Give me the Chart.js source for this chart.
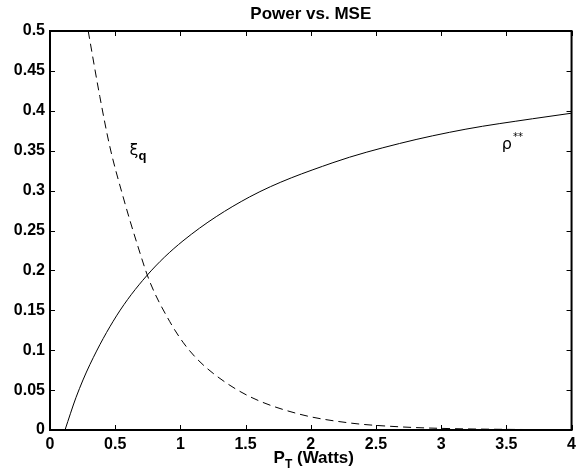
<!DOCTYPE html>
<html><head><meta charset="utf-8">
<script src="https://cdn.jsdelivr.net/npm/chart.js@4/dist/chart.umd.min.js"></script>
<style>html,body{margin:0;padding:0;background:#fff}#wrap{width:581px;height:469px}</style>
</head><body><div id="wrap"><canvas id="c" width="581" height="469"></canvas></div>
<script>
// Data
const rhoX = [0.115, 0.2, 0.306, 0.51, 0.74, 1.02, 1.53, 2.17, 2.68, 3.19, 3.70, 4.0];
const rhoY = [0, 0.041, 0.082, 0.143, 0.193, 0.237, 0.292, 0.335, 0.359, 0.377, 0.390, 0.397];
const xiX = [0.293, 0.382, 0.459, 0.561, 0.663, 0.765, 0.918, 1.02, 1.122, 1.275, 1.53, 1.91, 2.29, 2.68, 3.06, 3.5, 4.0];
const xiY = [0.5, 0.418, 0.355, 0.292, 0.236, 0.186, 0.136, 0.110, 0.090, 0.068, 0.042, 0.020, 0.009, 0.004, 0.0018, 0.0008, 0.0003];
const xTickValues = [0, 0.5, 1, 1.5, 2, 2.5, 3, 3.5, 4];
const xTickLabels = ['0', '0.5', '1', '1.5', '2', '2.5', '3', '3.5', '4'];
const yTickValues = [0, 0.05, 0.1, 0.15, 0.2, 0.25, 0.3, 0.35, 0.4, 0.45, 0.5];
const yTickLabels = ['0', '0.05', '0.1', '0.15', '0.2', '0.25', '0.3', '0.35', '0.4', '0.45', '0.5'];
const titleText = 'Power vs. MSE';

const toPts = (xs, ys) => xs.map((x, i) => ({x: x, y: ys[i]}));
const FONT = 'Liberation Sans, Arial, Helvetica, sans-serif';

const decor = {
  id: 'decor',
  afterDraw(chart) {
    const ctx = chart.ctx, a = chart.chartArea;
    const xs = chart.scales.x, ys = chart.scales.y;
    ctx.save();
    ctx.strokeStyle = '#000';
    ctx.fillStyle = '#000';
    // ticks inward on all four sides
    ctx.lineWidth = 1;
    ctx.beginPath();
    xTickValues.forEach(v => {
      const px = Math.round(xs.getPixelForValue(v)) + 0.5;
      ctx.moveTo(px, a.bottom); ctx.lineTo(px, a.bottom - 5);
      ctx.moveTo(px, a.top); ctx.lineTo(px, a.top + 5);
    });
    yTickValues.forEach(v => {
      const py = Math.round(ys.getPixelForValue(v)) + 0.5;
      ctx.moveTo(a.left, py); ctx.lineTo(a.left + 5, py);
      ctx.moveTo(a.right, py); ctx.lineTo(a.right - 5, py);
    });
    ctx.stroke();
    // frame
    ctx.lineWidth = 2;
    ctx.strokeRect(a.left, a.top, a.right - a.left, a.bottom - a.top);
    // title
    ctx.font = 'bold 17px ' + FONT;
    ctx.textAlign = 'center';
    ctx.textBaseline = 'alphabetic';
    ctx.fillText(titleText, (a.left + a.right) / 2, 19);
    // x axis title P_T (Watts)
    const cx = (a.left + a.right) / 2 + 3;
    const base = 463;
    ctx.textAlign = 'left';
    ctx.font = 'bold 17px ' + FONT;
    const wP = ctx.measureText('P').width;
    const wRest = ctx.measureText(' (Watts)').width;
    ctx.font = 'bold 12px ' + FONT;
    const wT = ctx.measureText('T').width;
    let x0 = cx - (wP + wT + wRest) / 2;
    ctx.font = 'bold 17px ' + FONT;
    ctx.fillText('P', x0, base);
    ctx.font = 'bold 12px ' + FONT;
    ctx.fillText('T', x0 + wP, base + 5);
    ctx.font = 'bold 17px ' + FONT;
    ctx.fillText(' (Watts)', x0 + wP + wT, base);
    // curve labels
    ctx.font = '16px DejaVu Sans, sans-serif';
    const xiPx = xs.getPixelForValue(0.61), xiPy = ys.getPixelForValue(0.344);
    ctx.fillText('\u03BE', xiPx, xiPy);
    const wXi = ctx.measureText('\u03BE').width;
    ctx.font = 'bold 13px ' + FONT;
    ctx.fillText('q', xiPx + wXi, xiPy + 5);
    ctx.font = '16px DejaVu Sans, sans-serif';
    const rPx = xs.getPixelForValue(3.465), rPy = ys.getPixelForValue(0.352);
    ctx.fillText('\u03C1', rPx, rPy);
    const wR = ctx.measureText('\u03C1').width;
    ctx.font = '10px DejaVu Sans, sans-serif';
    ctx.fillText('**', rPx + wR + 1, rPy - 9);
    ctx.restore();
  }
};

new Chart(document.getElementById('c'), {
  type: 'scatter',
  data: {
    datasets: [
      {label: 'rho', data: toPts(rhoX, rhoY), showLine: true, borderColor: '#000', borderWidth: 1,
       pointRadius: 0, cubicInterpolationMode: 'monotone', fill: false},
      {label: 'xi', data: toPts(xiX, xiY), showLine: true, borderColor: '#000', borderWidth: 1,
       borderDash: [8, 5], pointRadius: 0, cubicInterpolationMode: 'monotone', fill: false}
    ]
  },
  options: {
    responsive: false,
    devicePixelRatio: 1,
    animation: false,
    layout: {padding: {top: 31, right: 8, bottom: 0, left: 0}},
    plugins: {legend: {display: false}, tooltip: {enabled: false}, title: {display: false}},
    scales: {
      x: {
        type: 'linear', min: 0, max: 4,
        afterBuildTicks: s => { s.ticks = xTickValues.map(v => ({value: v})); },
        afterFit: s => { s.height = 39; },
        grid: {display: false, drawTicks: false},
        border: {display: false},
        ticks: {
          callback: (v, i) => xTickLabels[i],
          font: {family: FONT, size: 16, weight: 'bold'}, color: '#000',
          padding: 5, maxRotation: 0, autoSkip: false
        }
      },
      y: {
        type: 'linear', min: 0, max: 0.5,
        afterBuildTicks: s => { s.ticks = yTickValues.map(v => ({value: v})); },
        afterFit: s => { s.width = 50; },
        grid: {display: false, drawTicks: false},
        border: {display: false},
        ticks: {
          callback: (v, i) => yTickLabels[i],
          font: {family: FONT, size: 16, weight: 'bold'}, color: '#000',
          padding: 5, autoSkip: false
        }
      }
    }
  },
  plugins: [decor]
});
</script>
</body></html>
